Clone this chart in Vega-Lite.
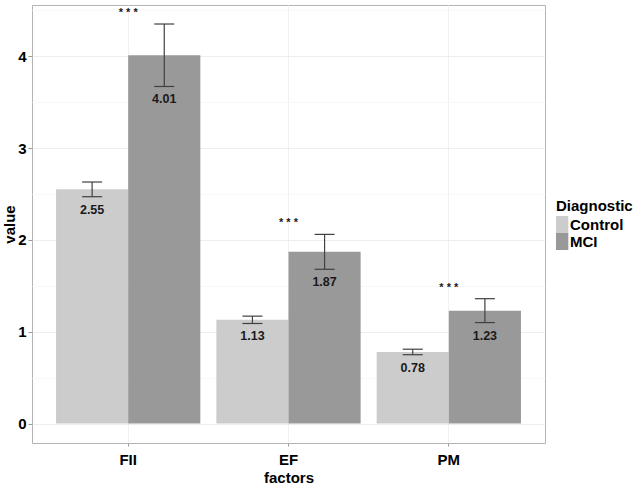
{
  "$schema": "https://vega.github.io/schema/vega-lite/v6.json",
  "width": 513,
  "height": 438,
  "autosize": {"type": "none"},
  "padding": {"left": 32, "top": 5, "right": 93, "bottom": 44},
  "background": "white",
  "config": {
    "view": {"stroke": "#b3b3b3", "strokeWidth": 1},
    "font": "Liberation Sans"
  },
  "data": {
    "values": [
      {"factor": "FII", "Diagnostic": "Control", "value": 2.55, "low": 2.47, "high": 2.63},
      {"factor": "FII", "Diagnostic": "MCI", "value": 4.01, "low": 3.67, "high": 4.35, "star": 4.47},
      {"factor": "EF", "Diagnostic": "Control", "value": 1.13, "low": 1.09, "high": 1.17},
      {"factor": "EF", "Diagnostic": "MCI", "value": 1.87, "low": 1.68, "high": 2.06, "star": 2.18},
      {"factor": "PM", "Diagnostic": "Control", "value": 0.78, "low": 0.75, "high": 0.81},
      {"factor": "PM", "Diagnostic": "MCI", "value": 1.23, "low": 1.10, "high": 1.36, "star": 1.48}
    ]
  },
  "encoding": {
    "x": {
      "field": "factor",
      "type": "nominal",
      "sort": ["FII", "EF", "PM"],
      "scale": {"paddingInner": 0.1, "paddingOuter": 0.15},
      "axis": {
        "title": "factors",
        "titleFontSize": 15,
        "titleFontWeight": "bold",
        "titleColor": "#000000",
        "titlePadding": 3,
        "labelAngle": 0,
        "labelFontSize": 15,
        "labelFontWeight": "bold",
        "labelColor": "#000000",
        "labelPadding": 6,
        "domain": false,
        "tickSize": 3,
        "tickColor": "#999999",
        "grid": true,
        "gridColor": "#f0f0f0"
      }
    }
  },
  "layer": [
    {
      "mark": {"type": "bar"},
      "encoding": {
        "xOffset": {"field": "Diagnostic", "type": "nominal", "scale": {"paddingInner": 0, "paddingOuter": 0}},
        "y": {
          "field": "value",
          "type": "quantitative",
          "scale": {"domain": [-0.211, 4.557], "nice": false, "zero": false},
          "axis": {
            "title": "value",
            "titleFontSize": 15,
            "titleFontWeight": "bold",
            "titleColor": "#000000",
            "titlePadding": 0,
            "values": [0, 0.5, 1, 1.5, 2, 2.5, 3, 3.5, 4, 4.5],
            "labelExpr": "datum.value % 1 === 0 ? format(datum.value, 'd') : ''",
            "labelFontSize": 15,
            "labelFontWeight": "bold",
            "labelColor": "#000000",
            "labelPadding": 2,
            "domain": false,
            "tickSize": 4,
            "tickColor": "#999999",
            "tickOpacity": {"condition": {"test": "datum.value % 1 !== 0", "value": 0}, "value": 1},
            "grid": true,
            "gridColor": {"condition": {"test": "datum.value % 1 !== 0", "value": "#f8f8f8"}, "value": "#eeeeee"}
          }
        },
        "y2": {"datum": 0},
        "color": {
          "field": "Diagnostic",
          "type": "nominal",
          "scale": {"domain": ["Control", "MCI"], "range": ["#cccccc", "#999999"]},
          "legend": {
            "title": "Diagnostic",
            "orient": "none",
            "legendX": 524,
            "legendY": 194,
            "titleFontSize": 15,
            "titleFontWeight": "bold",
            "titleColor": "#000000",
            "titlePadding": 2,
            "labelFontSize": 15,
            "labelFontWeight": "bold",
            "labelColor": "#000000",
            "labelOffset": -3,
            "symbolType": "M-1,-1H0.45V1H-1Z",
            "symbolSize": 289,
            "symbolStrokeWidth": 0,
            "symbolOpacity": 1,
            "rowPadding": 0
          }
        }
      }
    },
    {
      "mark": {"type": "rule", "color": "#404040", "strokeWidth": 1.2},
      "encoding": {
        "xOffset": {"field": "Diagnostic", "type": "nominal", "scale": {"paddingInner": 0, "paddingOuter": 0}},
        "y": {"field": "low", "type": "quantitative"},
        "y2": {"field": "high"}
      }
    },
    {
      "mark": {"type": "tick", "orient": "horizontal", "size": 20, "thickness": 1.2, "color": "#404040", "opacity": 1},
      "encoding": {
        "xOffset": {"field": "Diagnostic", "type": "nominal", "scale": {"paddingInner": 0, "paddingOuter": 0}},
        "y": {"field": "low", "type": "quantitative"}
      }
    },
    {
      "mark": {"type": "tick", "orient": "horizontal", "size": 20, "thickness": 1.2, "color": "#404040", "opacity": 1},
      "encoding": {
        "xOffset": {"field": "Diagnostic", "type": "nominal", "scale": {"paddingInner": 0, "paddingOuter": 0}},
        "y": {"field": "high", "type": "quantitative"}
      }
    },
    {
      "mark": {"type": "text", "baseline": "middle", "dy": 13, "fontSize": 12.5, "fontWeight": "bold", "color": "#1a1a1a"},
      "encoding": {
        "xOffset": {"field": "Diagnostic", "type": "nominal", "scale": {"paddingInner": 0, "paddingOuter": 0}},
        "y": {"field": "low", "type": "quantitative"},
        "text": {"field": "value", "type": "quantitative", "format": ".2f"}
      }
    },
    {
      "transform": [{"filter": "datum.star != null"}],
      "mark": {"type": "text", "baseline": "middle", "fontSize": 11, "fontWeight": "bold", "color": "#1a1a1a", "text": "* * *"},
      "encoding": {
        "y": {"field": "star", "type": "quantitative"}
      }
    }
  ]
}
